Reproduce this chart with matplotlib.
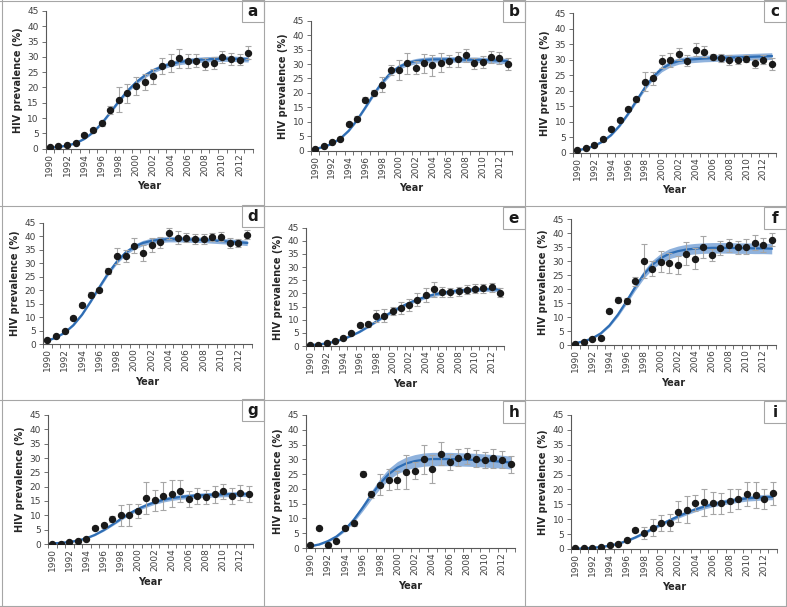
import matplotlib
matplotlib.use("Agg")
import matplotlib.pyplot as plt
from matplotlib.lines import Line2D
from matplotlib.patches import Rectangle
import numpy as np

# Datos (prevalencia VIH %, 1990-2013)
years = list(range(1990, 2014))
tick_years = list(range(1990, 2013, 2))
panel_letters = ['a', 'b', 'c', 'd', 'e', 'f', 'g', 'h', 'i']

prev_a = [0.6, 0.8, 1.1, 2.0, 4.6, 6.1, 8.3, 12.7, 16.0, 18.1, 20.4, 21.9, 23.6, 27.1, 28.1, 29.5, 28.6, 28.8, 27.7, 28.1, 30.0, 29.3, 29.1, 31.4]
err_a = [0.2, 0.2, 0.3, 0.4, 0.6, 0.7, 0.9, 1.3, 4.0, 3.2, 2.9, 2.6, 2.5, 2.7, 3.0, 3.2, 2.2, 2.1, 2.1, 2.0, 1.9, 1.9, 1.9, 2.1]
fit_a = [0.3, 0.6, 1.0, 1.8, 3.2, 5.3, 8.2, 11.8, 15.5, 18.9, 21.7, 23.9, 25.6, 26.8, 27.7, 28.3, 28.7, 29.0, 29.2, 29.3, 29.4, 29.4, 29.3, 29.2]

prev_b = [0.7, 1.6, 3.0, 4.2, 9.2, 11.1, 17.7, 20.1, 22.8, 28.0, 28.0, 30.2, 28.8, 30.2, 29.5, 30.5, 31.2, 31.6, 33.0, 30.2, 30.7, 32.5, 32.1, 30.0]
err_b = [0.2, 0.3, 0.4, 0.5, 0.7, 0.8, 0.8, 1.0, 2.6, 1.7, 3.5, 3.7, 2.4, 3.2, 3.5, 3.3, 2.1, 2.6, 2.3, 1.9, 2.1, 2.0, 2.0, 2.2]
fit_b = [0.6, 1.3, 2.4, 4.2, 6.9, 10.6, 15.0, 19.6, 23.7, 26.9, 29.0, 30.3, 31.0, 31.4, 31.6, 31.6, 31.6, 31.6, 31.5, 31.5, 31.4, 31.3, 31.2, 31.0]

prev_c = [0.9, 1.5, 2.6, 4.4, 7.8, 10.5, 14.2, 17.2, 22.9, 24.0, 29.5, 29.9, 31.8, 29.7, 33.3, 32.6, 30.9, 30.6, 29.9, 29.8, 30.4, 28.9, 30.0, 28.7]
err_c = [0.2, 0.3, 0.4, 0.5, 0.6, 0.6, 0.6, 0.8, 3.1, 2.2, 2.2, 2.3, 1.9, 1.8, 2.2, 1.7, 1.0, 1.4, 1.6, 1.2, 1.1, 1.5, 1.5, 1.9]
fit_c = [0.8, 1.3, 2.2, 3.6, 5.7, 8.7, 12.5, 16.8, 21.0, 24.6, 27.1, 28.7, 29.6, 30.0, 30.2, 30.4, 30.5, 30.6, 30.7, 30.8, 30.9, 31.0, 31.1, 31.2]

prev_d = [1.6, 3.1, 4.9, 9.7, 14.5, 18.4, 20.1, 27.1, 32.7, 32.7, 36.5, 33.9, 36.7, 37.8, 41.1, 39.5, 39.5, 39.0, 39.0, 39.8, 39.8, 37.6, 37.6, 40.6]
err_d = [0.3, 0.4, 0.5, 0.6, 0.7, 0.8, 0.9, 1.0, 3.1, 2.3, 2.7, 3.0, 2.6, 2.0, 2.0, 2.3, 1.8, 1.8, 1.7, 1.5, 1.7, 1.8, 1.5, 1.7]
fit_d = [1.3, 2.5, 4.3, 7.1, 11.0, 15.9, 21.2, 26.3, 30.6, 33.9, 36.1, 37.5, 38.3, 38.7, 38.9, 38.9, 38.8, 38.7, 38.6, 38.4, 38.2, 38.0, 37.8, 37.5]

prev_e = [0.3, 0.5, 1.1, 1.8, 3.2, 4.9, 8.1, 8.2, 11.5, 11.5, 13.2, 14.6, 15.7, 17.6, 19.4, 21.5, 20.5, 20.4, 20.8, 21.4, 21.8, 21.9, 22.3, 20.3]
err_e = [0.1, 0.2, 0.3, 0.4, 0.5, 0.6, 0.8, 0.9, 2.2, 2.4, 1.5, 2.3, 2.2, 2.5, 2.5, 3.0, 1.8, 1.6, 1.6, 1.8, 1.8, 1.8, 1.6, 1.6]
fit_e = [0.3, 0.6, 1.0, 1.7, 2.6, 3.9, 5.4, 7.3, 9.3, 11.3, 13.2, 14.9, 16.4, 17.7, 18.7, 19.6, 20.2, 20.7, 21.1, 21.3, 21.5, 21.6, 21.6, 21.5]

prev_f = [0.4, 1.2, 2.3, 2.4, 12.2, 16.2, 15.8, 22.7, 30.0, 27.3, 29.8, 29.2, 28.6, 32.6, 30.8, 35.0, 32.1, 34.6, 35.6, 34.9, 35.1, 36.6, 35.6, 37.6]
err_f = [0.2, 0.3, 0.4, 0.5, 0.8, 0.9, 1.0, 1.5, 6.0, 2.6, 3.9, 3.6, 3.2, 4.2, 3.7, 3.9, 2.1, 2.4, 2.4, 2.3, 2.6, 2.7, 2.5, 2.4]
fit_f = [0.7, 1.3, 2.4, 4.2, 7.0, 10.9, 15.6, 20.6, 25.1, 28.6, 31.0, 32.6, 33.5, 34.1, 34.4, 34.6, 34.7, 34.7, 34.7, 34.6, 34.6, 34.5, 34.5, 34.4]

prev_g = [0.1, 0.1, 0.7, 1.2, 1.9, 5.5, 6.6, 8.7, 10.0, 10.2, 11.4, 16.0, 15.2, 16.8, 17.6, 18.6, 15.8, 16.6, 16.4, 17.3, 18.4, 16.9, 17.9, 17.6]
err_g = [0.1, 0.1, 0.2, 0.3, 0.4, 0.7, 0.9, 1.1, 3.6, 3.8, 2.5, 5.6, 3.7, 4.8, 4.8, 3.9, 2.8, 2.8, 2.6, 3.1, 2.6, 2.8, 2.7, 2.8]
fit_g = [0.2, 0.4, 0.7, 1.2, 2.0, 3.2, 4.8, 6.7, 8.7, 10.6, 12.2, 13.5, 14.6, 15.4, 16.0, 16.4, 16.7, 16.9, 17.1, 17.2, 17.3, 17.4, 17.4, 17.4]

prev_h = [1.1, 6.6, 0.9, 2.3, 6.8, 8.4, 25.2, 18.2, 21.4, 23.1, 23.0, 25.6, 26.2, 30.0, 26.7, 31.9, 29.1, 30.6, 31.1, 30.2, 29.8, 30.3, 29.9, 28.3]
err_h = [0.2, 0.4, 0.3, 0.4, 0.6, 0.8, 0.9, 1.2, 3.5, 3.5, 3.0, 5.7, 2.8, 4.8, 4.7, 3.8, 2.8, 2.8, 2.8, 2.9, 2.8, 3.1, 2.8, 2.8]
fit_h = [0.6, 1.2, 2.3, 3.9, 6.3, 9.6, 13.6, 17.9, 21.8, 25.0, 27.2, 28.6, 29.4, 29.9, 30.1, 30.1, 30.1, 30.0, 29.9, 29.8, 29.6, 29.4, 29.2, 28.9]

prev_i = [0.2, 0.2, 0.4, 0.8, 1.3, 1.8, 3.1, 6.4, 5.4, 7.1, 8.8, 8.8, 12.5, 13.2, 15.5, 15.7, 15.3, 15.3, 16.2, 16.8, 18.5, 18.2, 16.9, 18.7]
err_i = [0.1, 0.1, 0.2, 0.2, 0.3, 0.4, 0.6, 0.8, 2.0, 2.9, 2.7, 2.8, 3.5, 4.6, 2.8, 4.6, 3.7, 3.4, 3.8, 3.4, 3.9, 4.3, 3.4, 3.9]
fit_i = [0.1, 0.2, 0.4, 0.7, 1.1, 1.8, 2.7, 3.9, 5.3, 6.8, 8.3, 9.7, 11.0, 12.2, 13.3, 14.2, 15.0, 15.6, 16.1, 16.6, 17.0, 17.2, 17.4, 17.5]

# ancho relativo de la banda de incertidumbre del ajuste
band_rel = [0.025, 0.025, 0.03, 0.022, 0.03, 0.05, 0.04, 0.07, 0.045]

prev = [prev_a, prev_b, prev_c, prev_d, prev_e, prev_f, prev_g, prev_h, prev_i]
errs = [err_a, err_b, err_c, err_d, err_e, err_f, err_g, err_h, err_i]
fits = [fit_a, fit_b, fit_c, fit_d, fit_e, fit_f, fit_g, fit_h, fit_i]

W, H = 787, 607

# posicion de cada eje en pixeles: izquierda, derecha, arriba (45), abajo (0)
axes_px = [
    (45.5, 252.5, 11, 148.7), (311, 512, 20.7, 150.7), (573, 776, 13.3, 152.7),
    (43, 251.5, 222.7, 344.3), (306, 504, 227.7, 346), (571, 776, 219, 345),
    (48, 253, 415, 544), (306, 515, 415, 548), (571, 777, 415, 549),
]
# cajas de las letras (x izquierda, y arriba)
label_px = [(242, 0), (503, 0), (764, 0), (242, 205), (503, 207), (764, 207),
            (242, 399), (503, 401), (764, 401)]

fig = plt.figure(figsize=(W / 100, H / 100), dpi=100)
fig.patch.set_facecolor('white')

grid_color = '#a6a6a6'
for x in [1.5, 264, 525, 785.5]:
    fig.add_artist(Line2D([x / W, x / W], [0, 1], color=grid_color, lw=0.8,
                          transform=fig.transFigure))
for y in [0.5, 206, 400, 606]:
    fig.add_artist(Line2D([0, 1], [1 - y / H, 1 - y / H], color=grid_color, lw=0.8,
                          transform=fig.transFigure))

txt_color = '#404040'
for k in range(9):
    l, r, t, b = axes_px[k]
    ax = fig.add_axes([l / W, 1 - b / H, (r - l) / W, (b - t) / H])
    ax.set_facecolor('none')

    fit = np.array(fits[k])
    half = fit * band_rel[k] + 0.15
    ax.fill_between(years, fit - half, fit + half, color='#8fb2dd', lw=0, zorder=1)
    ax.plot(years, fit, color='#2e6db4', lw=1.6, zorder=2)
    ax.errorbar(years, prev[k], yerr=errs[k], fmt='none', ecolor='#a6a6a6',
                elinewidth=0.8, capsize=2, capthick=0.8, zorder=3)
    ax.plot(years, prev[k], 'o', color='#1a1a1a', ms=4.3, zorder=4)

    ax.set_xlim(1989.5, 2013.5)
    ax.set_ylim(0, 45)
    ax.set_yticks(range(0, 46, 5))
    ax.set_xticks(np.arange(1989.5, 2014, 1))
    ax.set_xticklabels([])
    ax.set_xticks(tick_years, minor=True)
    ax.set_xticklabels([str(yr) for yr in tick_years], minor=True, rotation=90)
    ax.tick_params(axis='x', which='major', length=3, width=0.6, color='#595959')
    ax.tick_params(axis='x', which='minor', length=0, pad=3, labelsize=6.5,
                   labelcolor=txt_color)
    ax.tick_params(axis='y', length=3, width=0.6, color='#595959', pad=2,
                   labelsize=6.5, labelcolor=txt_color)
    for side in ['top', 'right']:
        ax.spines[side].set_visible(False)
    for side in ['left', 'bottom']:
        ax.spines[side].set_color('#595959')
        ax.spines[side].set_linewidth(0.8)

    ax.set_ylabel('HIV prevalence (%)', fontsize=7, fontweight='bold',
                  color='#262626', labelpad=3)
    ax.set_xlabel('Year', fontsize=7, fontweight='bold', color='#262626', labelpad=4)

    # caja con la letra del panel
    bx, by = label_px[k]
    fig.add_artist(Rectangle((bx / W, 1 - (by + 22) / H), 22 / W, 22 / H,
                             transform=fig.transFigure, facecolor='white',
                             edgecolor=grid_color, lw=0.8))
    fig.text((bx + 11) / W, 1 - (by + 11.5) / H, panel_letters[k], fontsize=11,
             fontweight='bold', ha='center', va='center', color='#1a1a1a')

fig.savefig('out.png', dpi=100)
